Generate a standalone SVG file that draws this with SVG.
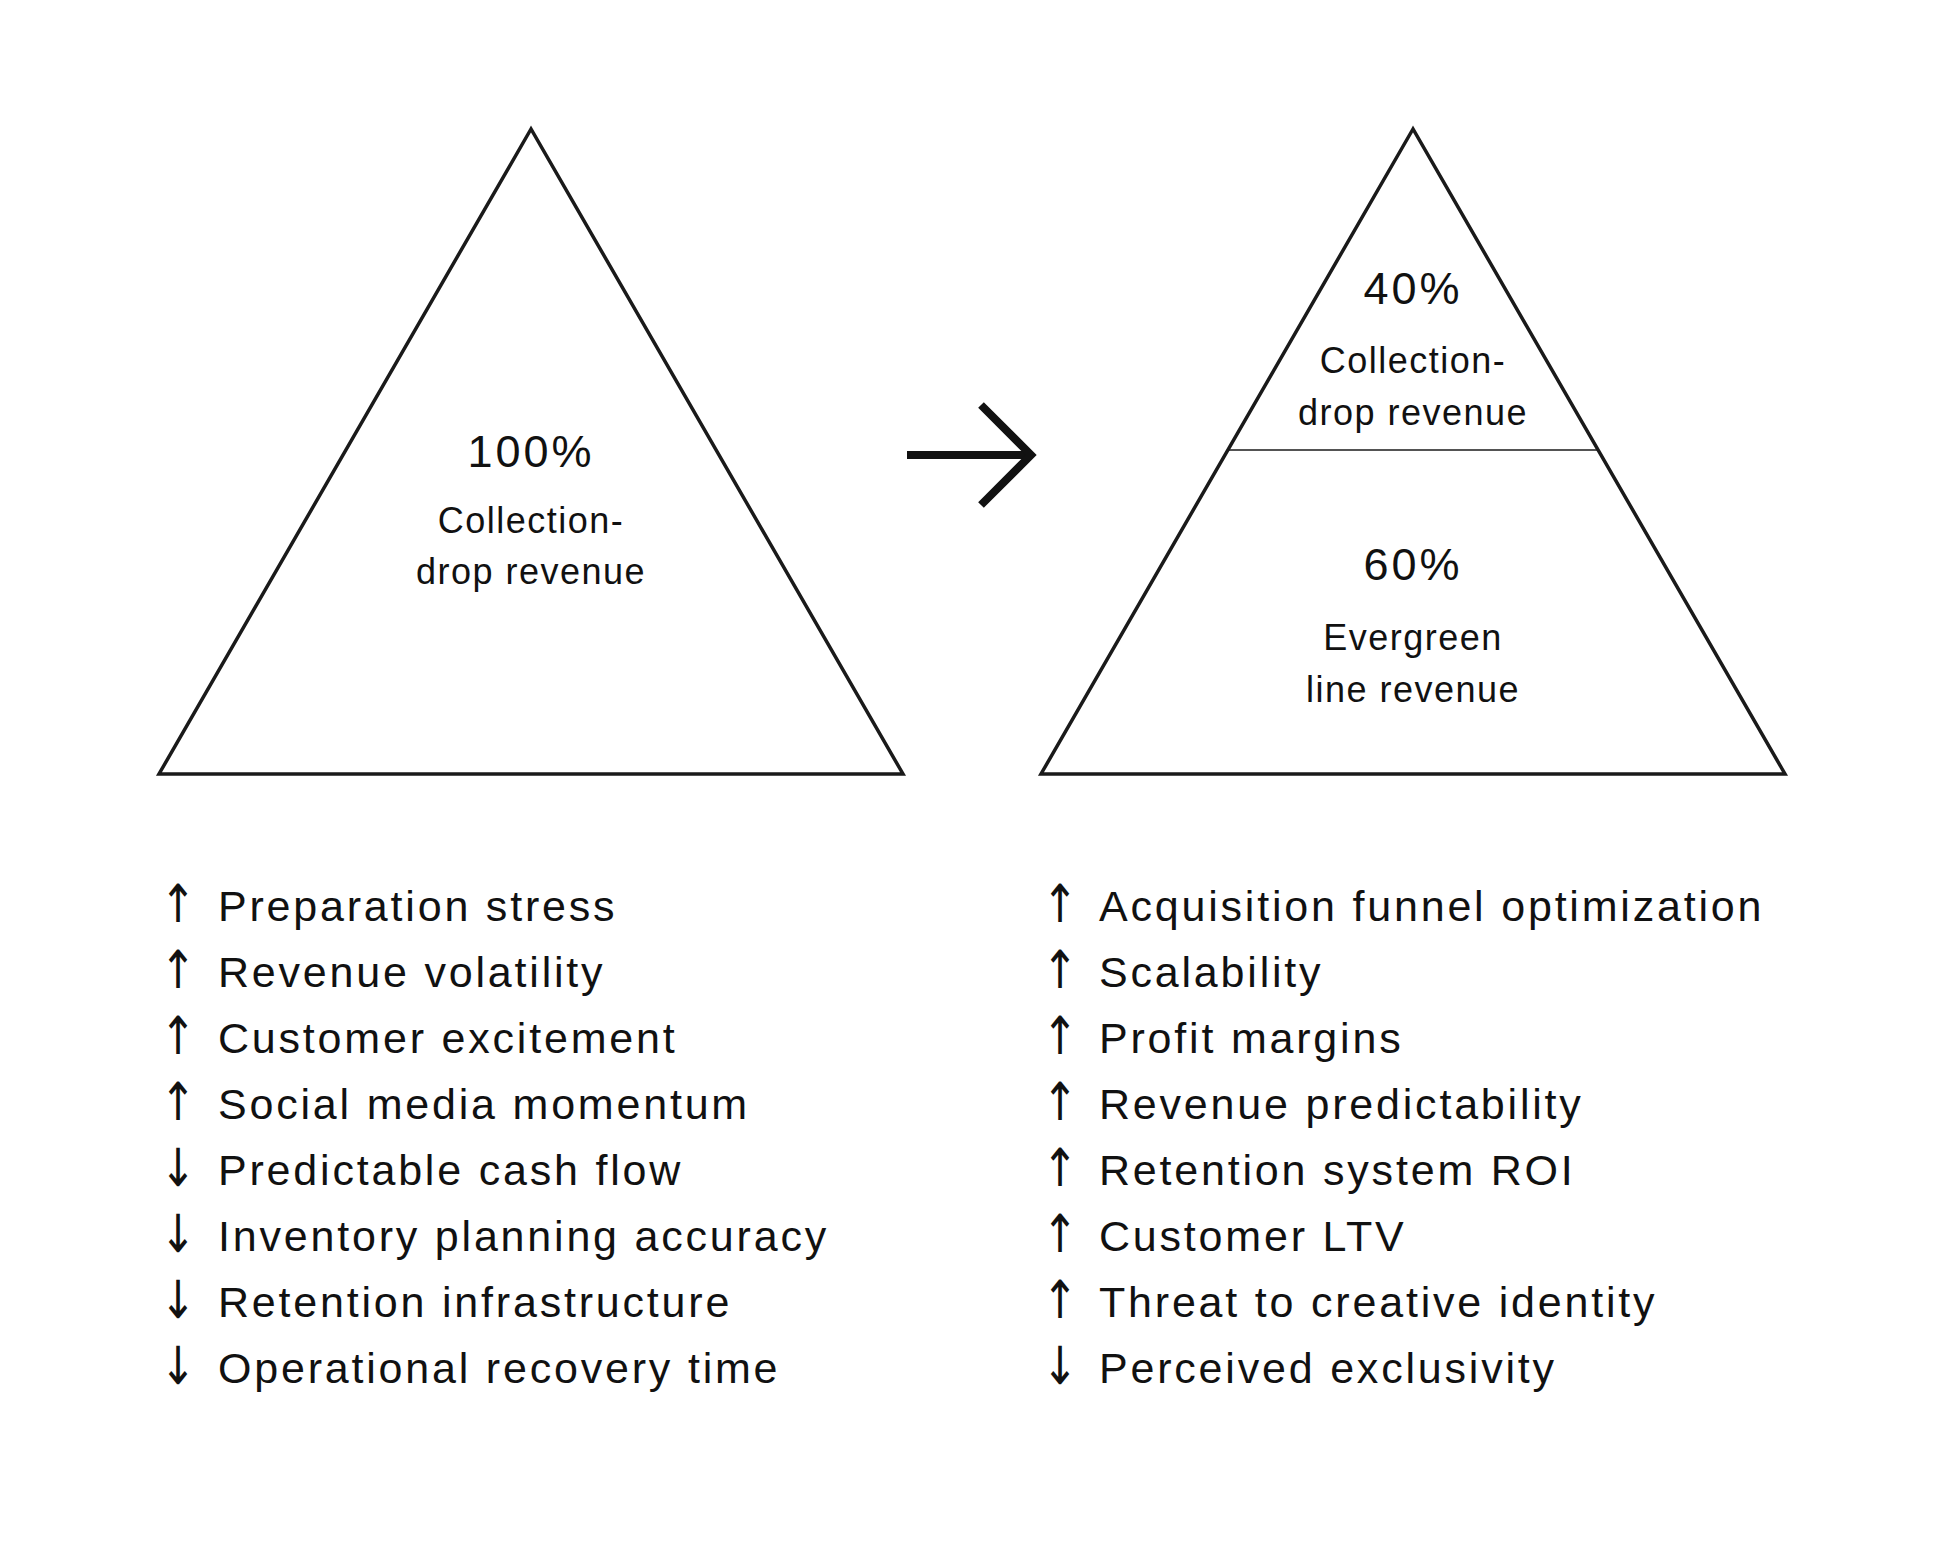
<svg xmlns="http://www.w3.org/2000/svg" width="1944" height="1550" viewBox="0 0 1944 1550">
  <style>
    .tri { fill: none; stroke: #1a1a1a; stroke-width: 3.5; stroke-linejoin: miter; }
    .div { stroke: #1a1a1a; stroke-width: 1.5; }
    .pct { font-family: "Liberation Sans", Arial, sans-serif; font-size: 45px; letter-spacing: 3px; fill: #111; text-anchor: middle; }
    .lbl { font-family: "Liberation Sans", Arial, sans-serif; font-size: 36px; letter-spacing: 1.5px; fill: #111; text-anchor: middle; }
    .item { font-family: "Liberation Sans", Arial, sans-serif; font-size: 43px; letter-spacing: 2.8px; fill: #111; }
    .arr { font-family: "DejaVu Sans", sans-serif; font-size: 43px; fill: #111; }
    .conn { fill: none; stroke: #111; stroke-width: 8; stroke-linejoin: miter; stroke-linecap: butt; }
  </style>
  <rect width="1944" height="1550" fill="#ffffff"/>

  <g id="left-pyramid">
    <polygon class="tri" points="531,129 159,774 903,774"/>
    <text class="pct" x="531" y="467">100%</text>
    <text class="lbl" x="531" y="533">Collection-</text>
    <text class="lbl" x="531" y="584">drop revenue</text>
  </g>

  <g id="right-pyramid">
    <polygon class="tri" points="1413,129 1041,774 1785,774"/>
    <line class="div" x1="1228" y1="450" x2="1598" y2="450"/>
    <text class="pct" x="1413" y="304">40%</text>
    <text class="lbl" x="1413" y="373">Collection-</text>
    <text class="lbl" x="1413" y="425">drop revenue</text>
    <text class="pct" x="1413" y="580">60%</text>
    <text class="lbl" x="1413" y="650">Evergreen</text>
    <text class="lbl" x="1413" y="702">line revenue</text>
  </g>

  <g id="connectors">
    <path class="conn" d="M907,455 H1032"/>
    <path class="conn" d="M981,405 L1031,455 L981,505"/>
  </g>

  <g id="left-list">
    <text class="arr" transform="translate(160,922) scale(1,1.22)">↑</text>
    <text class="item" x="218" y="921">Preparation stress</text>
    <text class="arr" transform="translate(160,988) scale(1,1.22)">↑</text>
    <text class="item" x="218" y="987">Revenue volatility</text>
    <text class="arr" transform="translate(160,1054) scale(1,1.22)">↑</text>
    <text class="item" x="218" y="1053">Customer excitement</text>
    <text class="arr" transform="translate(160,1120) scale(1,1.22)">↑</text>
    <text class="item" x="218" y="1119">Social media momentum</text>
    <text class="arr" transform="translate(160,1186) scale(1,1.22)">↓</text>
    <text class="item" x="218" y="1185">Predictable cash flow</text>
    <text class="arr" transform="translate(160,1252) scale(1,1.22)">↓</text>
    <text class="item" x="218" y="1251">Inventory planning accuracy</text>
    <text class="arr" transform="translate(160,1318) scale(1,1.22)">↓</text>
    <text class="item" x="218" y="1317">Retention infrastructure</text>
    <text class="arr" transform="translate(160,1384) scale(1,1.22)">↓</text>
    <text class="item" x="218" y="1383">Operational recovery time</text>
  </g>

  <g id="right-list">
    <text class="arr" transform="translate(1042,922) scale(1,1.22)">↑</text>
    <text class="item" x="1099" y="921">Acquisition funnel optimization</text>
    <text class="arr" transform="translate(1042,988) scale(1,1.22)">↑</text>
    <text class="item" x="1099" y="987">Scalability</text>
    <text class="arr" transform="translate(1042,1054) scale(1,1.22)">↑</text>
    <text class="item" x="1099" y="1053">Profit margins</text>
    <text class="arr" transform="translate(1042,1120) scale(1,1.22)">↑</text>
    <text class="item" x="1099" y="1119">Revenue predictability</text>
    <text class="arr" transform="translate(1042,1186) scale(1,1.22)">↑</text>
    <text class="item" x="1099" y="1185">Retention system ROI</text>
    <text class="arr" transform="translate(1042,1252) scale(1,1.22)">↑</text>
    <text class="item" x="1099" y="1251">Customer LTV</text>
    <text class="arr" transform="translate(1042,1318) scale(1,1.22)">↑</text>
    <text class="item" x="1099" y="1317">Threat to creative identity</text>
    <text class="arr" transform="translate(1042,1384) scale(1,1.22)">↓</text>
    <text class="item" x="1099" y="1383">Perceived exclusivity</text>
  </g>
</svg>
